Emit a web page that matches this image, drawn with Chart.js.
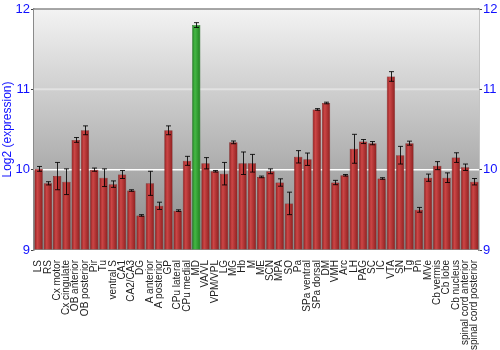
<!DOCTYPE html>
<html>
<head>
<meta charset="utf-8">
<script src="https://cdn.jsdelivr.net/npm/chart.js@4"></script>
<style>
  html, body { margin: 0; padding: 0; background: #fff; }
  #wrap { width: 500px; height: 350px; }
</style>
</head>
<body>
<div id="wrap"><canvas id="grafica"></canvas></div>
<script>
// regiones
var regiones = [
  "LS", "RS", "Cx motor", "Cx cingulate", "OB anterior", "OB posterior", "Pir", "Tu",
  "ventral S", "CA1", "CA2/CA3", "DG", "A anterior", "A posterior", "GP", "CPu lateral",
  "CPu medial", "MD", "VA/VL", "VPM/VPL", "LG", "MG", "Hb", "M", "ME", "SCN", "MPA",
  "SO", "Pa", "SPa ventral", "SPa dorsal", "DM", "VMH", "Arc", "LH", "PAG", "SC", "IC",
  "VTA", "SN", "Tg", "Pn", "MVe", "Cb vermis", "Cb lobe", "Cb nucleus",
  "spinal cord anterior", "spinal cord posterior"
];

// log2 expresion
var valores = [
  10.01, 9.83, 9.92, 9.85, 10.37, 10.49, 10.0, 9.9,
  9.82, 9.94, 9.74, 9.43, 9.83, 9.55, 10.49, 9.49,
  10.11, 11.8, 10.08, 9.98, 9.95, 10.34, 10.08, 10.08, 9.91, 9.98, 9.84,
  9.58, 10.16, 10.13, 10.75, 10.83, 9.84, 9.93, 10.26, 10.35, 10.33, 9.89,
  11.16, 10.18, 10.33, 9.5, 9.9, 10.05, 9.9, 10.15,
  10.03, 9.85
];

// error (+/-)
var errores = [
  0.03, 0.02, 0.17, 0.16, 0.03, 0.055, 0.02, 0.11,
  0.04, 0.05, 0.01, 0.01, 0.15, 0.045, 0.055, 0.01,
  0.056, 0.03, 0.07, 0.01, 0.14, 0.017, 0.14, 0.11, 0.01, 0.03, 0.046,
  0.14, 0.077, 0.077, 0.01, 0.01, 0.027, 0.01, 0.18, 0.025, 0.02, 0.01,
  0.06, 0.11, 0.025, 0.03, 0.045, 0.05, 0.06, 0.06,
  0.04, 0.04
];

var destacado = "MD";
var ticksY = [9, 10, 11, 12];

// fondo degradado del area
const fondo = {
  id: "fondo",
  beforeDatasetsDraw(chart) {
    const a = chart.chartArea, ctx = chart.ctx;
    const g = ctx.createLinearGradient(0, a.top, 0, a.bottom);
    g.addColorStop(0, "#f3f3f3");
    g.addColorStop(1, "#888888");
    ctx.save();
    ctx.fillStyle = g;
    ctx.fillRect(a.left, a.top, a.right - a.left, a.bottom - a.top);
    // lineas de la grilla encima del fondo
    const y = chart.scales.y;
    [[10, "#ffffff", 1.5], [11, "#e2e2e2", 2], [12, "#8a8a8a", 1.5]].forEach((l) => {
      const py = y.getPixelForValue(l[0]);
      ctx.strokeStyle = l[1];
      ctx.lineWidth = l[2];
      ctx.beginPath();
      ctx.moveTo(a.left, py);
      ctx.lineTo(a.right, py);
      ctx.stroke();
    });
    ctx.restore();
  },
};

// barras de error
const barrasError = {
  id: "barrasError",
  afterDatasetsDraw(chart) {
    const ctx = chart.ctx, y = chart.scales.y;
    const meta = chart.getDatasetMeta(0);
    ctx.save();
    ctx.strokeStyle = "rgba(0,0,0,0.85)";
    ctx.lineWidth = 1;
    meta.data.forEach((bar, i) => {
      const x = Math.round(bar.x) + 0.5;
      const y1 = y.getPixelForValue(valores[i] + errores[i]);
      const y2 = y.getPixelForValue(valores[i] - errores[i]);
      ctx.beginPath();
      ctx.moveTo(x, y1);
      ctx.lineTo(x, y2);
      ctx.moveTo(x - 2.5, y1);
      ctx.lineTo(x + 2.5, y1);
      ctx.moveTo(x - 2.5, y2);
      ctx.lineTo(x + 2.5, y2);
      ctx.stroke();
    });
    ctx.restore();
  },
};

function colorBarra(c) {
  const chart = c.chart;
  const plano = regiones[c.dataIndex] === destacado ? "#33a033" : "#b33535";
  if (!chart.scales || !chart.scales.x) return plano;
  const x = chart.scales.x.getPixelForValue(c.dataIndex);
  if (!isFinite(x)) return plano;
  const w = 4.3;
  const g = chart.ctx.createLinearGradient(x - w, 0, x + w, 0);
  if (regiones[c.dataIndex] === destacado) {
    g.addColorStop(0, "#1f7a1f");
    g.addColorStop(0.35, "#45b845");
    g.addColorStop(1, "#1e7e1e");
  } else {
    g.addColorStop(0, "#8a1c1c");
    g.addColorStop(0.35, "#cc4646");
    g.addColorStop(1, "#8c1e1e");
  }
  return g;
}

const grafica = document.querySelector("#grafica").getContext("2d");
const chart = new Chart(grafica, {
  type: "bar",
  data: {
    labels: regiones,
    datasets: [
      {
        data: valores,
        backgroundColor: colorBarra,
        borderColor: (c) => (regiones[c.dataIndex] === destacado ? "#1a5e1a" : "#6e1414"),
        borderWidth: 0.5,
        barPercentage: 0.9,
        categoryPercentage: 1.0,
        base: 9,
      },
    ],
  },
  options: {
    responsive: true,
    maintainAspectRatio: false,
    animation: false,
    layout: { padding: { top: 9, left: 0, right: 0, bottom: 0 } },
    plugins: {
      legend: { display: false },
      tooltip: { enabled: false },
    },
    scales: {
      x: {
        grid: { display: false },
        border: { display: false },
        ticks: {
          autoSkip: false,
          minRotation: 90,
          maxRotation: 90,
          padding: 2,
          color: "#222",
          font: { family: "Liberation Sans, Arial, sans-serif", size: 10 },
        },
        afterFit: (s) => { s.height = 100; },
      },
      y: {
        min: 9,
        max: 12,
        afterBuildTicks: (s) => { s.ticks = ticksY.map((v) => ({ value: v })); },
        grid: { drawOnChartArea: false, tickLength: 3, tickColor: "#444" },
        border: { display: true, color: "#8a8a8a", width: 1.5 },
        ticks: {
          padding: 1,
          color: "#1010ff",
          font: { family: "Liberation Sans, Arial, sans-serif", size: 13 },
        },
        title: {
          display: true,
          text: "Log2 (expression)",
          color: "#1010ff",
          padding: { top: 0, bottom: 2 },
          font: { family: "Liberation Sans, Arial, sans-serif", size: 12 },
        },
        afterFit: (s) => { s.width = 34; },
      },
      y2: {
        position: "right",
        min: 9,
        max: 12,
        afterBuildTicks: (s) => { s.ticks = ticksY.map((v) => ({ value: v })); },
        grid: { drawOnChartArea: false, tickLength: 3, tickColor: "#444" },
        border: { display: true, color: "#8a8a8a", width: 1.5 },
        ticks: {
          padding: 1,
          color: "#1010ff",
          font: { family: "Liberation Sans, Arial, sans-serif", size: 13 },
        },
        afterFit: (s) => { s.width = 21; },
      },
    },
  },
  plugins: [fondo, barrasError],
});
chart.update();
</script>
</body>
</html>
